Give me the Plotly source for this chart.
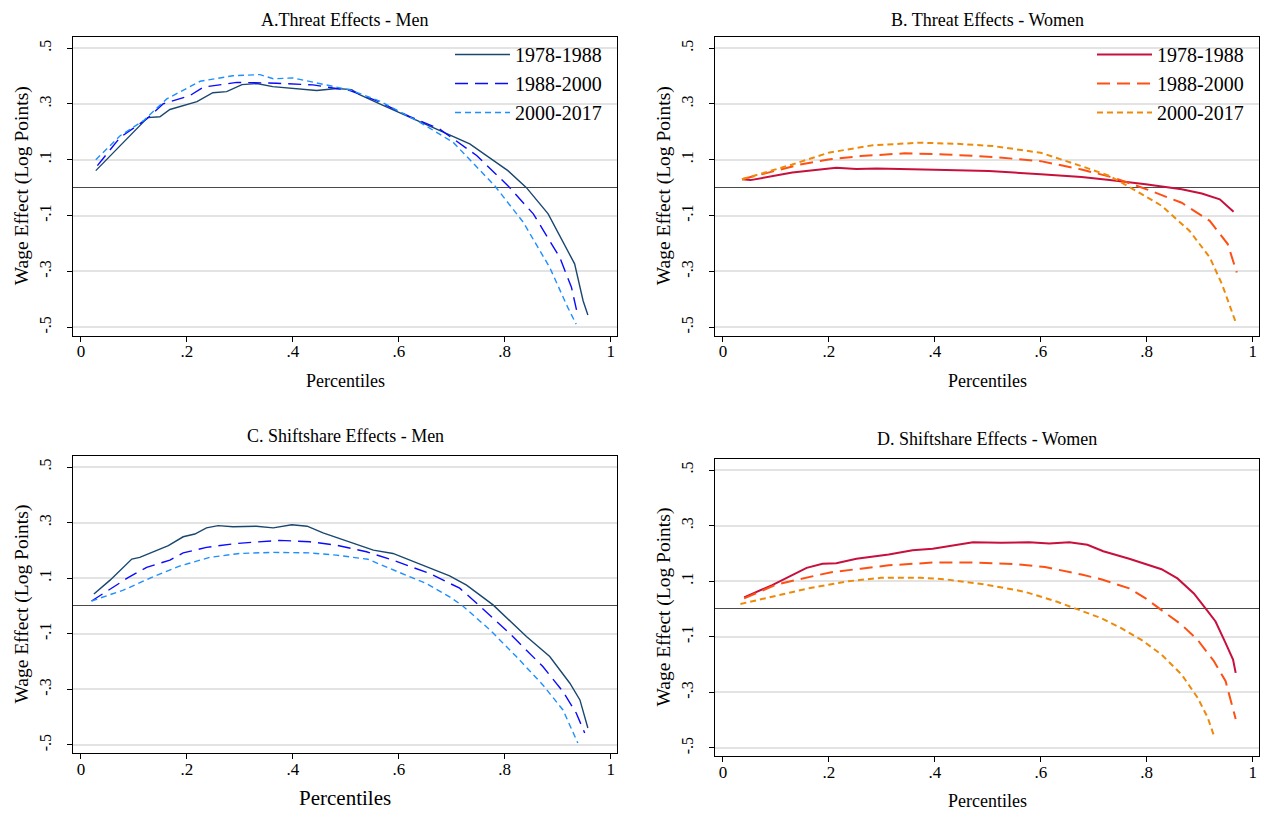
import plotly.graph_objects as go

W, H = 1268, 815
OFF = 8  # page body margin; figure coordinates = page coordinates - OFF
FW, FH = W - OFF, H - OFF

# ---------------- data (percentile, wage effect) ----------------
periods = ["1978-1988", "1988-2000", "2000-2017"]
x_ticks = [0, 0.2, 0.4, 0.6, 0.8, 1]
x_ticktext = ["0", ".2", ".4", ".6", ".8", "1"]
y_ticks = [0.5, 0.3, 0.1, -0.1, -0.3, -0.5]
y_ticktext = [".5", ".3", ".1", "-.1", "-.3", "-.5"]

# Panel A: Threat effects - Men
A_1978_x = [0.028, 0.086, 0.126, 0.149, 0.168, 0.219, 0.249, 0.275, 0.304, 0.332, 0.362, 0.445, 0.483, 0.511, 0.526, 0.564, 0.627, 0.734, 0.806, 0.841, 0.882, 0.932, 0.948, 0.957]
A_1978_y = [0.061, 0.175, 0.251, 0.254, 0.28, 0.308, 0.34, 0.344, 0.369, 0.373, 0.362, 0.348, 0.355, 0.351, 0.333, 0.30, 0.246, 0.157, 0.061, 0.0, -0.094, -0.273, -0.405, -0.456]
A_1988_x = [0.031, 0.074, 0.124, 0.155, 0.206, 0.231, 0.294, 0.369, 0.438, 0.508, 0.56, 0.62, 0.677, 0.747, 0.806, 0.854, 0.904, 0.926, 0.938]
A_1988_y = [0.079, 0.18, 0.246, 0.30, 0.33, 0.36, 0.377, 0.374, 0.368, 0.348, 0.31, 0.255, 0.21, 0.115, 0.007, -0.094, -0.25, -0.357, -0.459]
A_2000_x = [0.028, 0.074, 0.118, 0.162, 0.225, 0.287, 0.338, 0.363, 0.40, 0.451, 0.508, 0.564, 0.64, 0.703, 0.781, 0.835, 0.885, 0.919, 0.935]
A_2000_y = [0.10, 0.186, 0.24, 0.318, 0.381, 0.401, 0.405, 0.39, 0.393, 0.372, 0.35, 0.31, 0.234, 0.162, 0.007, -0.124, -0.286, -0.429, -0.489]

# Panel B: Threat effects - Women
B_1978_x = [0.036, 0.052, 0.131, 0.214, 0.252, 0.29, 0.40, 0.502, 0.60, 0.677, 0.73, 0.798, 0.866, 0.904, 0.938, 0.964]
B_1978_y = [0.030, 0.027, 0.054, 0.071, 0.067, 0.069, 0.064, 0.06, 0.048, 0.038, 0.027, 0.012, -0.006, -0.021, -0.042, -0.086]
B_1988_x = [0.036, 0.146, 0.199, 0.26, 0.343, 0.419, 0.51, 0.60, 0.677, 0.737, 0.80, 0.866, 0.919, 0.953, 0.97]
B_1988_y = [0.030, 0.083, 0.101, 0.113, 0.123, 0.119, 0.11, 0.095, 0.065, 0.036, -0.006, -0.054, -0.119, -0.202, -0.304]
B_2000_x = [0.036, 0.131, 0.199, 0.283, 0.373, 0.442, 0.51, 0.60, 0.677, 0.73, 0.775, 0.828, 0.881, 0.919, 0.942, 0.957, 0.968]
B_2000_y = [0.03, 0.083, 0.125, 0.152, 0.161, 0.157, 0.149, 0.125, 0.077, 0.042, -0.006, -0.065, -0.155, -0.25, -0.345, -0.423, -0.482]

# Panel C: Shiftshare effects - Men
C_1978_x = [0.0245, 0.055, 0.096, 0.111, 0.165, 0.193, 0.215, 0.237, 0.259, 0.287, 0.331, 0.363, 0.398, 0.427, 0.457, 0.508, 0.552, 0.589, 0.696, 0.728, 0.778, 0.841, 0.885, 0.923, 0.942, 0.957]
C_1978_y = [0.043, 0.093, 0.169, 0.175, 0.217, 0.249, 0.259, 0.281, 0.289, 0.285, 0.287, 0.281, 0.292, 0.287, 0.263, 0.229, 0.201, 0.189, 0.108, 0.075, 0.004, -0.11, -0.182, -0.278, -0.338, -0.439]
C_1988_x = [0.02, 0.089, 0.124, 0.168, 0.193, 0.237, 0.294, 0.375, 0.432, 0.482, 0.539, 0.589, 0.658, 0.715, 0.753, 0.809, 0.872, 0.91, 0.935, 0.951]
C_1988_y = [0.018, 0.102, 0.139, 0.165, 0.191, 0.211, 0.225, 0.236, 0.231, 0.219, 0.195, 0.165, 0.117, 0.064, 0.0, -0.098, -0.218, -0.308, -0.385, -0.457]
C_2000_x = [0.02, 0.08, 0.136, 0.187, 0.243, 0.30, 0.363, 0.432, 0.482, 0.542, 0.583, 0.652, 0.696, 0.721, 0.772, 0.822, 0.872, 0.91, 0.938]
C_2000_y = [0.018, 0.057, 0.105, 0.144, 0.175, 0.189, 0.193, 0.191, 0.183, 0.168, 0.135, 0.081, 0.033, 0.0, -0.086, -0.182, -0.284, -0.374, -0.493]

# Panel D: Shiftshare effects - Women
D_1978_x = [0.04, 0.093, 0.158, 0.188, 0.214, 0.252, 0.313, 0.358, 0.396, 0.472, 0.525, 0.578, 0.616, 0.654, 0.688, 0.718, 0.767, 0.805, 0.828, 0.858, 0.889, 0.911, 0.93, 0.949, 0.963, 0.968]
D_1978_y = [0.042, 0.086, 0.148, 0.163, 0.165, 0.181, 0.196, 0.211, 0.217, 0.24, 0.238, 0.24, 0.236, 0.24, 0.231, 0.208, 0.181, 0.157, 0.143, 0.11, 0.056, 0.002, -0.045, -0.123, -0.182, -0.23]
D_1988_x = [0.04, 0.101, 0.177, 0.207, 0.26, 0.313, 0.396, 0.472, 0.548, 0.608, 0.677, 0.714, 0.767, 0.798, 0.828, 0.866, 0.896, 0.927, 0.949, 0.961, 0.968]
D_1988_y = [0.038, 0.088, 0.121, 0.133, 0.145, 0.157, 0.167, 0.167, 0.162, 0.151, 0.124, 0.107, 0.074, 0.038, -0.004, -0.057, -0.111, -0.188, -0.26, -0.343, -0.396]
D_2000_x = [0.033, 0.093, 0.161, 0.237, 0.298, 0.373, 0.419, 0.495, 0.57, 0.631, 0.669, 0.714, 0.752, 0.79, 0.828, 0.866, 0.896, 0.915, 0.928]
D_2000_y = [0.018, 0.044, 0.074, 0.1, 0.112, 0.112, 0.107, 0.088, 0.062, 0.026, 0.0, -0.033, -0.069, -0.111, -0.164, -0.236, -0.319, -0.39, -0.462]

titles = ["A.Threat Effects - Men", "B. Threat Effects - Women",
          "C. Shiftshare Effects - Men", "D. Shiftshare Effects - Women"]

# ---------------- styling ----------------
FONT = "Liberation Serif, Times New Roman, serif"
men_colors = ["#1A476F", "#0a0aff", "#1E8FFF"]
women_colors = ["#C8103C", "#FF5014", "#EE8A0A"]
dashes = ["solid", "13px,7px", "6px,4px"]
men_widths = [1.4, 1.4, 1.4]
women_widths = [2.0, 2.0, 2.0]

# plot-area pixel boxes in page pixels: (left, right, top, bottom)
boxes = [(73, 617, 36.9, 335.6), (715, 1259, 36.9, 335.6),
         (73, 617, 455.9, 753.3), (715, 1259, 458.9, 756.3)]


def px(xp):
    return (xp - OFF) / FW


def py(yp):
    return 1 - (yp - OFF) / FH


fig = go.Figure()

panels = [
    ([A_1978_x, A_1988_x, A_2000_x], [A_1978_y, A_1988_y, A_2000_y], men_colors, men_widths, "legend", True),
    ([B_1978_x, B_1988_x, B_2000_x], [B_1978_y, B_1988_y, B_2000_y], women_colors, women_widths, "legend2", True),
    ([C_1978_x, C_1988_x, C_2000_x], [C_1978_y, C_1988_y, C_2000_y], men_colors, men_widths, "legend", False),
    ([D_1978_x, D_1988_x, D_2000_x], [D_1978_y, D_1988_y, D_2000_y], women_colors, women_widths, "legend", False),
]

for i, (xs, ys, cols, widths, leg, show) in enumerate(panels):
    sfx = "" if i == 0 else str(i + 1)
    for k in range(3):
        fig.add_trace(go.Scatter(
            x=xs[k], y=ys[k], mode="lines", name=periods[k],
            line=dict(color=cols[k], width=widths[k], dash=dashes[k]),
            xaxis="x" + sfx, yaxis="y" + sfx,
            showlegend=show, legend=leg, hoverinfo="skip"))

layout = dict(
    width=FW, height=FH,
    margin=dict(l=0, r=0, t=0, b=0),
    paper_bgcolor="white", plot_bgcolor="white",
    font=dict(family=FONT, color="black"),
    annotations=[], shapes=[],
)

for i, (l, r, t, b) in enumerate(boxes):
    sfx = "" if i == 0 else str(i + 1)
    layout["xaxis" + sfx] = dict(
        domain=[px(l), px(r)], range=[-0.015, 1.012], anchor="y" + sfx,
        tickvals=x_ticks, ticktext=x_ticktext, ticks="outside", ticklen=5,
        tickcolor="black", showline=True, linecolor="black", linewidth=1.2,
        mirror=True, showgrid=False, zeroline=False, ticklabelstandoff=-5,
        tickfont=dict(family=FONT, size=17, color="black"), fixedrange=True)
    layout["yaxis" + sfx] = dict(
        domain=[py(b), py(t)], range=[-0.53, 0.54], anchor="x" + sfx,
        tickvals=y_ticks, ticktext=y_ticktext, ticks="outside", ticklen=5,
        tickcolor="black", showline=True, linecolor="black", linewidth=1.2,
        mirror=True, showgrid=True, gridcolor="#e3e3e3", gridwidth=1.5,
        zeroline=True, zerolinecolor="#4a4a4a", zerolinewidth=1.2,
        tickangle=-90, ticklabelstandoff=10,
        tickfont=dict(family=FONT, size=16, color="black"),
        fixedrange=True)
    cx = px((l + r) / 2)
    # panel title (top row is pinned to the top edge so it is not clipped)
    if i < 2:
        title_pos = dict(y=1.0, yanchor="top")
    else:
        title_pos = dict(y=py(t - 20), yanchor="middle")
    layout["annotations"].append(dict(
        text=titles[i], x=cx, xref="paper", yref="paper",
        xanchor="center", showarrow=False,
        font=dict(family=FONT, size=18, color="black"), **title_pos))
    # x title
    xt_size = 21 if i == 2 else 18
    layout["annotations"].append(dict(
        text="Percentiles", x=cx, y=py(b + 45), xref="paper", yref="paper",
        xanchor="center", yanchor="middle", showarrow=False,
        font=dict(family=FONT, size=xt_size, color="black")))
    # y title
    layout["annotations"].append(dict(
        text="Wage Effect (Log Points)", x=px(l - 51), y=py((t + b) / 2),
        xref="paper", yref="paper", xanchor="center", yanchor="middle",
        textangle=-90, showarrow=False,
        font=dict(family=FONT, size=19.5, color="black")))

# white patches behind the legends (hide gridlines there)
for (x0, x1) in [(447, 616), (1089, 1258)]:
    layout["shapes"].append(dict(
        type="rect", xref="paper", yref="paper", layer="between",
        x0=px(x0), x1=px(x1), y0=py(122), y1=py(38),
        fillcolor="white", line=dict(width=0)))

leg_common = dict(bgcolor="rgba(0,0,0,0)", borderwidth=0, itemwidth=55,
                  font=dict(family=FONT, size=20, color="black"),
                  xanchor="left", yanchor="top", tracegroupgap=0)
layout["legend"] = dict(x=px(450), y=py(35), **leg_common)
layout["legend2"] = dict(x=px(1092), y=py(35), **leg_common)

fig.update_layout(**layout)
fig.write_html("out.html")
